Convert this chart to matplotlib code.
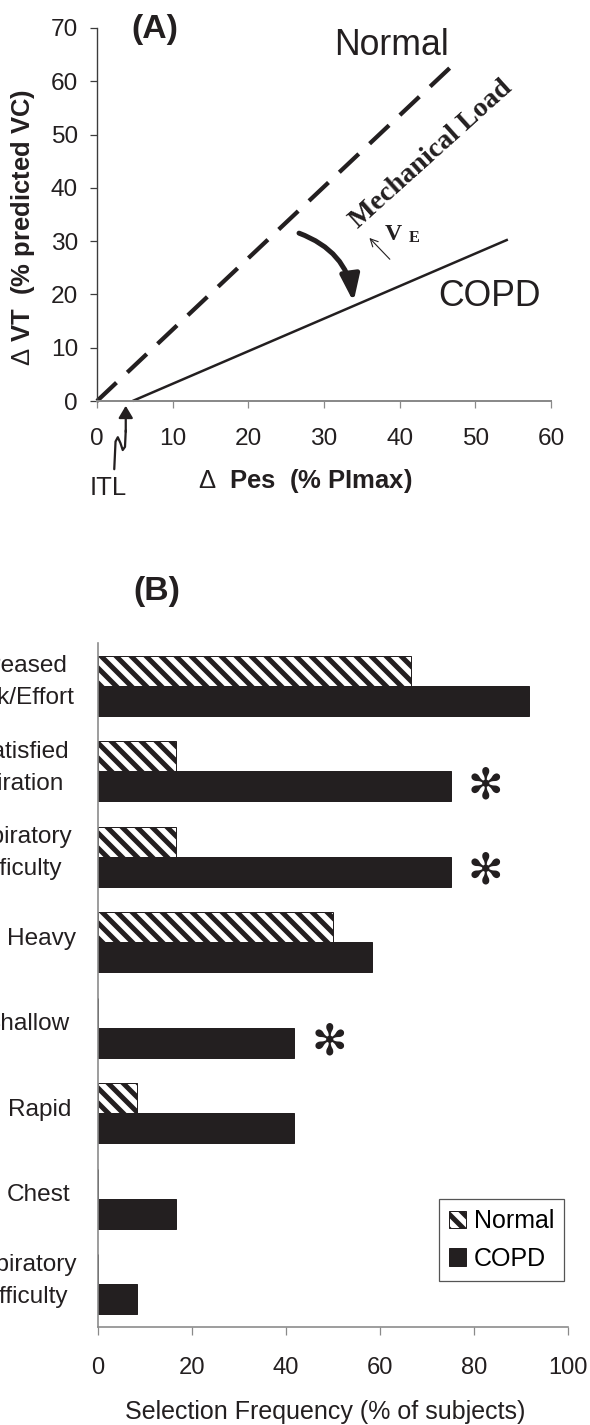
import numpy as np
import matplotlib
matplotlib.use("Agg")
import matplotlib.pyplot as plt
from matplotlib.patches import FancyArrowPatch

plt.rcParams["font.family"] = ["Liberation Sans", "DejaVu Sans"]
plt.rcParams["mathtext.fontset"] = "custom"
plt.rcParams["mathtext.rm"] = "Liberation Sans"
plt.rcParams["hatch.linewidth"] = 4.0

INK = "#231f20"
AXIS_GREY = "#8a8a8a"

# ---- Panel A: tidal volume response vs. inspiratory effort ----
normal_pes = [0.0, 47.0]      # ΔPes (% PImax)
normal_vt = [0.0, 63.0]       # ΔVT (% predicted VC)
copd_pes = [4.7, 54.3]
copd_vt = [0.0, 30.3]
itl_pes = 3.8                 # inspiratory threshold load
a_xticks = [0, 10, 20, 30, 40, 50, 60]
a_yticks = [0, 10, 20, 30, 40, 50, 60, 70]

# ---- Panel B: descriptor selection frequency ----
descriptors = ["Increased\nWork/Effort", "Unsatisfied\nInspiration",
               "Inspiratory\nDifficulty", "Heavy", "Shallow", "Rapid",
               "Chest", "Expiratory\nDifficulty"]
normal_freq = [66.7, 16.7, 16.7, 50.0, 0.0, 8.3, 0.0, 0.0]
copd_freq = [91.7, 75.0, 75.0, 58.3, 41.7, 41.7, 16.7, 8.3]
significant = [False, True, True, False, True, False, False, False]
b_xticks = [0, 20, 40, 60, 80, 100]

# horizontal centre of each category label, in figure pixels
label_centre_px = [14, 8, 16, 42, 28, 40, 39, 22]

W, H, DPI = 590, 1425, 90
fig = plt.figure(figsize=(W / DPI, H / DPI), dpi=DPI)
fig.patch.set_facecolor("white")

# ================= Panel A =================
axA = fig.add_axes([97 / W, 1 - 401 / H, 454 / W, 373 / H])
axA.plot(normal_pes, normal_vt, color=INK, lw=3.4,
         linestyle=(0, (6.3, 3.5)), dash_capstyle="butt", clip_on=False)
axA.plot(copd_pes, copd_vt, color=INK, lw=2.0, clip_on=False,
         solid_capstyle="butt")
axA.set_xlim(0, 60)
axA.set_ylim(0, 70)
axA.set_xticks(a_xticks)
axA.set_yticks(a_yticks)
for s in ("top", "right"):
    axA.spines[s].set_visible(False)
axA.spines["left"].set_color("#3c3c3c")
axA.spines["left"].set_linewidth(1.1)
axA.spines["bottom"].set_color(AXIS_GREY)
axA.spines["bottom"].set_linewidth(1.6)
axA.tick_params(axis="x", direction="out", length=5.6, width=1.0,
                color=AXIS_GREY, labelsize=19.5, labelcolor=INK, pad=16)
axA.tick_params(axis="y", direction="out", length=5.6, width=1.0,
                color="#3c3c3c", labelsize=19.5, labelcolor=INK, pad=9.6)

axA.set_xlabel(r"$\Delta$  Pes  (% PImax)", fontsize=20.5,
               fontweight="bold", color=INK, va="center")
axA.xaxis.set_label_coords(0.458, -0.2145)
axA.set_ylabel(r"$\Delta$ VT  (% predicted VC)", fontsize=20.5,
               fontweight="bold", color=INK, va="center")
axA.yaxis.set_label_coords(-0.163, 0.464)

axA.text(7.66, 69.8, "(A)", fontsize=27, fontweight="bold", color=INK,
         ha="center", va="center")
axA.text(38.97, 66.8, "Normal", fontsize=28.5, color=INK,
         ha="center", va="center")
axA.text(51.85, 19.6, "COPD", fontsize=28.5, color=INK,
         ha="center", va="center")
axA.text(44.2, 46.3, "Mechanical Load", fontsize=22.5,
         family="Liberation Serif", fontweight="bold", color=INK,
         rotation=42, rotation_mode="anchor", ha="center", va="center")
axA.text(39.2, 31.2, "V", fontsize=19, family="Liberation Serif",
         fontweight="bold", color=INK, ha="center", va="center")
axA.text(41.9, 30.5, "E", fontsize=13, family="Liberation Serif",
         fontweight="bold", color=INK, ha="center", va="center")
axA.annotate("", xy=(36.0, 30.6), xytext=(38.7, 26.6),
             arrowprops=dict(arrowstyle="->,head_length=0.5,head_width=0.25",
                             lw=0.9, color=INK, shrinkA=0, shrinkB=0,
                             mutation_scale=12))

# curved arrow: normal response shifted down by mechanical load
bend = FancyArrowPatch(posA=(26.7, 31.5), posB=(33.9, 18.6),
                       connectionstyle="arc3,rad=-0.3",
                       arrowstyle="-|>,head_length=0.88,head_width=0.32",
                       mutation_scale=20, lw=4.0, color=INK,
                       shrinkA=0, shrinkB=0)
axA.add_patch(bend)

# ITL marker: squiggle plus arrow pointing at the threshold
squiggle_x = [2.28, 2.45, 2.75, 3.1, 3.4, 3.7, itl_pes]
squiggle_y = [-12.8, -7.6, -6.8, -7.9, -9.2, -8.6, -5.5]
axA.plot(squiggle_x, squiggle_y, color=INK, lw=1.8, clip_on=False,
         solid_joinstyle="round", solid_capstyle="round")
axA.annotate("", xy=(itl_pes, -0.9), xytext=(itl_pes, -5.8),
             arrowprops=dict(arrowstyle="-|>,head_length=0.67,head_width=0.4",
                             lw=1.8, color=INK, shrinkA=0, shrinkB=0,
                             mutation_scale=12),
             annotation_clip=False)
axA.text(1.45, -16.3, "ITL", fontsize=20.5, color=INK, ha="center",
         va="center", clip_on=False)

# ================= Panel B =================
B_LEFT, B_WIDTH = 98, 470
axB = fig.add_axes([B_LEFT / W, 1 - 1327 / H, B_WIDTH / W, 684 / H])
pos = np.arange(len(descriptors))
bh = 0.35
axB.barh(pos - bh / 2, normal_freq, height=bh, color="white",
         edgecolor=INK, hatch="\\\\", lw=0.8, label="Normal")
axB.barh(pos + bh / 2, copd_freq, height=bh, color=INK,
         edgecolor=INK, lw=0.8, label="COPD")
for i, sig in enumerate(significant):
    if sig:
        axB.text(copd_freq[i] + 7.5, pos[i] + bh / 2, "\u273B",
                 family="DejaVu Sans", fontsize=34, color=INK,
                 ha="center", va="center")

axB.set_xlim(0, 100)
axB.set_ylim(len(descriptors) - 0.5, -0.5)
axB.set_xticks(b_xticks)
axB.set_yticks(pos)
axB.set_yticklabels([""] * len(pos))
ytrans = axB.get_yaxis_transform()
for i, name in enumerate(descriptors):
    axB.text((label_centre_px[i] - B_LEFT) / B_WIDTH, pos[i] - 0.04, name,
             transform=ytrans, ha="center", va="center",
             multialignment="center", linespacing=1.6, fontsize=19.5,
             color=INK, clip_on=False)
for s in ("top", "right"):
    axB.spines[s].set_visible(False)
for s in ("left", "bottom"):
    axB.spines[s].set_color(AXIS_GREY)
    axB.spines[s].set_linewidth(1.3)
axB.tick_params(axis="x", direction="out", length=6.4, width=1.0,
                color=AXIS_GREY, labelsize=19, labelcolor=INK, pad=17.6)
axB.tick_params(axis="y", length=0)

axB.set_xlabel("Selection Frequency (% of subjects)", fontsize=20,
               color=INK, va="top")
axB.xaxis.set_label_coords(0.484, -0.1067)
axB.text(0.1255, 1.0746, "(B)", transform=axB.transAxes, fontsize=27,
         fontweight="bold", color=INK, ha="center", va="center")

leg = axB.legend(loc="upper right", bbox_to_anchor=(0.9915, 0.1871),
                 frameon=True, fancybox=False, framealpha=1,
                 edgecolor="#555555", borderaxespad=0, fontsize=20,
                 handlelength=0.68, handleheight=0.68, handletextpad=0.3,
                 labelspacing=0.55, borderpad=0.4)
leg.get_frame().set_linewidth(1.0)

fig.savefig("out.png", dpi=DPI, facecolor="white")
